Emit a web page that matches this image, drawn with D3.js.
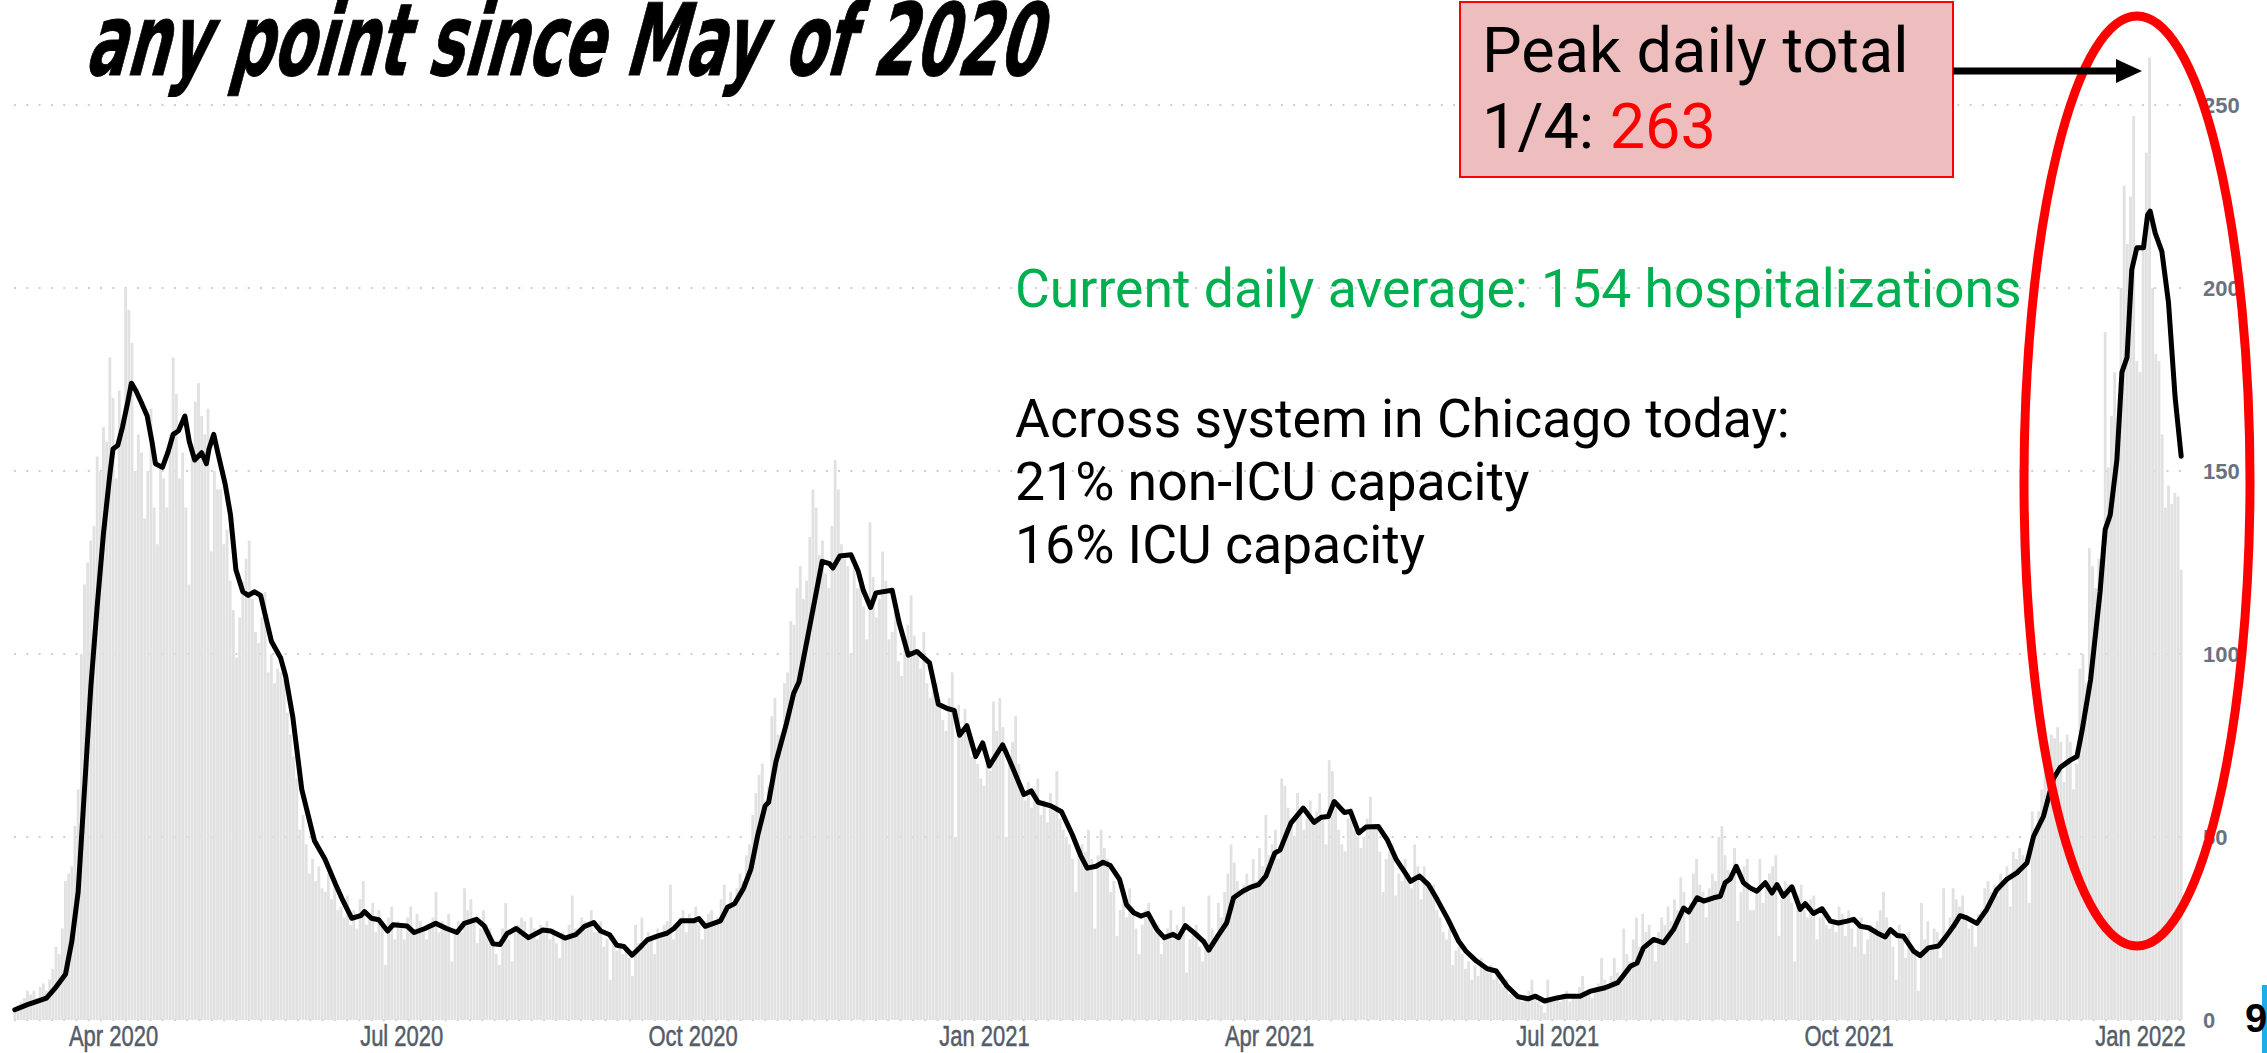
<!DOCTYPE html>
<html>
<head>
<meta charset="utf-8">
<script src="https://cdn.jsdelivr.net/npm/d3@7"></script>
<style>
  html, body { margin: 0; padding: 0; background: #fff; overflow: hidden; }
  svg { display: block; }
</style>
</head>
<body>
<svg id="chart" width="2267" height="1053"></svg>
<script>
// daily covid hospitalizations, one array per month (day 1 .. end)
var mar20 = [3,4,5,6,8,7,8,6,9,10,8,11,14,20,18,25,38,40,42,53,63,100,119,125,131,135,154,150,162,158,181];
var apr20 = [170,148,172,160,200,194,185,150,160,155,137,150,167,140,130,152,148,140,160,181,171,148,155,140,119,155,169,174,165,160];
var may20 = [167,128,150,145,145,130,134,120,112,99,110,120,126,131,115,106,103,110,117,95,100,92,96,95,93,84,78,72,66,52,56];
var jun20 = [48,40,44,38,42,36,35,40,33,37,30,31,28,34,26,30,25,33,38,26,29,32,24,30,27,15,28,31,22,27];
var jul20 = [26,22,28,31,24,29,27,25,22,26,28,35,24,27,26,29,16,25,27,24,36,30,33,28,21,25,30,26,25,22,18];
var aug20 = [15,25,32,22,16,24,26,28,27,23,28,25,22,26,24,27,22,25,21,17,24,22,26,34,25,23,28,27,26,30,24];
var sep20 = [24,27,20,22,11,23,19,21,18,20,17,12,26,21,28,20,24,22,18,25,23,26,27,37,22,26,28,30,24,29];
var oct20 = [28,31,26,22,27,29,30,26,28,33,37,30,35,32,36,40,38,45,48,56,62,67,70,60,64,83,88,78,75,92,95];
var nov20 = [109,108,118,124,115,120,132,145,140,127,131,122,118,135,153,145,130,126,124,100,125,118,120,113,104,136,121,110,115,128];
var dec20 = [120,104,106,112,98,94,102,108,116,105,100,96,106,92,88,90,92,86,82,79,88,95,50,86,80,85,78,72,74,70,66];
var jan21 = [64,72,68,87,79,88,80,50,72,76,83,70,62,60,65,58,63,66,56,60,54,62,57,68,55,52,50,48,44,35,45];
var feb21 = [48,46,52,44,25,45,52,47,44,35,38,23,30,34,28,36,31,25,18,26,30,32,28,24,26,18,22,25];
var mar21 = [30,22,26,24,31,13,22,24,26,20,16,22,34,25,22,32,28,35,40,48,43,38,34,37,40,35,44,38,47,42,56];
var apr21 = [45,48,52,44,66,64,58,55,50,62,58,52,55,60,54,57,62,56,48,71,68,58,52,48,46,55,58,52,50,47];
var may21 = [50,55,61,53,53,46,35,44,46,48,34,40,38,44,40,36,48,42,33,42,38,35,37,30,28,24,22,25,15,19,20];
var jun21 = [18,14,16,11,15,12,17,14,13,15,11,12,10,9,11,7,8,6,7,5,6,8,11,6,5,4,2,11,5,6];
var jul21 = [7,5,6,8,5,7,6,9,12,7,8,6,9,10,17,11,9,12,17,13,10,25,18,16,22,28,20,29,24,26,22];
var aug21 = [16,24,28,26,31,27,33,30,39,35,21,32,40,44,37,35,28,36,40,38,50,53,45,41,38,47,27,35,42,44,30];
var sep21 = [30,36,44,32,38,40,42,45,23,33,38,37,32,16,34,37,30,28,33,34,22,28,30,26,25,27,24,31,29,23];
var oct21 = [30,25,20,26,28,18,22,26,25,27,30,35,28,24,20,11,26,23,17,24,19,18,8,32,22,27,20,25,24,17,36];
var nov21 = [22,28,36,33,31,34,28,25,26,20,29,30,36,38,35,37,34,40,38,42,31,46,44,47,45,44,32,57,52,57];
var dec21 = [63,70,74,78,77,80,76,65,78,76,63,70,96,100,92,129,124,118,126,120,188,151,165,177,155,200,228,212,225,247,180];
var jan22 = [177,214,237,263,200,182,180,160,140,146,141,144,143,123];

var months = [
  ["2020-03", mar20], ["2020-04", apr20], ["2020-05", may20], ["2020-06", jun20],
  ["2020-07", jul20], ["2020-08", aug20], ["2020-09", sep20], ["2020-10", oct20],
  ["2020-11", nov20], ["2020-12", dec20], ["2021-01", jan21], ["2021-02", feb21],
  ["2021-03", mar21], ["2021-04", apr21], ["2021-05", may21], ["2021-06", jun21],
  ["2021-07", jul21], ["2021-08", aug21], ["2021-09", sep21], ["2021-10", oct21],
  ["2021-11", nov21], ["2021-12", dec21], ["2022-01", jan22]
];

// 7-day average: [days since 2020-03-01, value]
var avgStart = "2020-03-01";
var avgPoints = [
  [0,2.8],[4,4.2],[10,6],[13,9],[16,12.5],[18,21.5],[20,35],[22,63],[24,91],[26,113],[28,133],[30,149],
  [31,156],[32.5,157],[34,162],[35.7,169],[36.8,174],[38.2,172],[39.8,169],[41.8,165],[43.3,158],[44.4,152],
  [46.6,151],[48.3,155],[50,160],[51.7,161],[53.7,165],[55.1,158],[56.8,153],[59,155],[60.5,152],[61.3,156],
  [62.8,160],[64.1,155],[66.4,146.5],[68.1,138],[69.8,123],[72,117],[73.7,116],[75.6,117],[77.6,116],[81,103.5],
  [83.9,99],[85.5,94],[87.8,82.6],[90.6,63],[94.6,49],[97.9,44],[101.3,37],[103.6,32.6],[106.4,27.8],[109.2,28.5],
  [110.4,29.6],[112.6,27.8],[114.9,27.4],[117.7,24.3],[119.4,26],[123.8,25.7],[126.1,23.9],[129.5,25],[132.9,26.4],
  [136.3,25],[139.6,23.9],[141.9,26.4],[145.8,27.5],[148.2,25.7],[151,20.8],[153.2,20.6],[155.4,23.6],[158.3,25],
  [162.2,22.5],[166.7,24.6],[169.2,24.3],[173.7,22.4],[177.1,23.3],[179.9,25.6],[182.8,26.6],[185,24.3],[187.8,23.3],
  [190.1,20.4],[192.3,20.1],[194.9,17.7],[197.4,19.8],[199.7,21.9],[203.1,23],[205.9,23.7],[208.1,25],[210.4,27.1],
  [214.3,27.1],[216,27.7],[218,25.6],[222.8,27.1],[225,30.8],[227.3,31.8],[230.1,36],[232.4,41.2],[234.6,50.6],
  [236.9,58.5],[238,59.5],[240.3,70.5],[243.6,80.9],[245.9,89.2],[247.6,92.4],[250.4,104.9],[252.7,115.3],
  [254.9,125.3],[257.2,124.7],[258.3,123.5],[260.5,126.8],[264,127.1],[266.3,122.6],[267.9,117.4],[270.2,112.7],
  [271.9,116.7],[277,117.4],[279.2,108.6],[282.1,99.7],[284.8,100.7],[288.8,97.6],[291.6,86.3],[294.4,85.1],
  [296.6,84.6],[298.3,77.8],[300.6,80.4],[303.4,72],[305.6,75.7],[307.7,69.4],[311.9,75.2],[314.6,69.9],
  [318.6,61.6],[320.9,62.6],[323.1,59.5],[327.1,58.5],[330.5,56.9],[333.9,50.6],[336.5,45],[338.6,41.5],
  [341.4,42],[343.6,43.1],[345.9,42.2],[348.8,38.4],[351,31.5],[353.3,29.3],[355.5,28.4],[357.8,29.1],[360.6,24.7],
  [362.9,22.5],[365.7,23.4],[367.4,22.5],[369.6,25.8],[372.4,23.8],[375.3,21.5],[377,19.1],[379.8,22.9],[382.6,26.5],
  [384.8,33.4],[387.7,35.2],[390.5,36.4],[392.7,37],[395,39.3],[397.8,45.6],[399.5,46.5],[402.9,53.8],[406.8,57.9],
  [410.2,54],[412.5,55.4],[414.7,55.6],[416.6,59.7],[419.8,56.7],[421.7,57],[424.3,51.1],[426.6,52.7],[430.5,52.9],
  [433.3,49.3],[436.2,43.8],[439,40.2],[440.7,37.9],[443.5,39.3],[446.3,37],[449.1,32.9],[452.5,27.5],[455.9,21.5],
  [458.2,18.8],[461.5,16.1],[464.9,14],[467.7,13.4],[471.1,9.3],[474.5,6.4],[477.8,5.8],[480.1,6.5],[483,5.2],
  [486.3,5.9],[489.7,6.5],[494.2,6.5],[497.6,7.9],[502.1,8.8],[506.1,10.2],[510.1,14.7],[512.2,15.6],[514.2,19.7],
  [517.4,22],[520.6,21.1],[523.7,24.7],[526.9,30.6],[528.5,29.5],[531.2,33.4],[533.2,32.5],[536.4,33.4],[538.5,33.8],
  [540,37.5],[541.6,38.5],[543.5,42],[545.8,37.5],[547.9,36.1],[550,35.2],[552.7,37.5],[554.8,34.7],[556.4,37],
  [558.4,33.8],[561.1,36.4],[563.7,30.2],[565.3,31.8],[567.9,29.1],[570.6,30.4],[573.2,27],[575.8,26.5],[578.5,27],
  [580.6,27.5],[582.7,25.6],[585.3,25.2],[588,23.8],[590.6,22.7],[592.2,24.7],[594.3,23.1],[596.3,22.9],[599.5,18.8],
  [601.6,17.6],[604.2,19.7],[607.4,20.2],[609.5,22.5],[612.1,25.6],[614.2,28.5],[616.3,27.9],[619.5,26.4],[622.6,30.2],
  [625.8,35.6],[628.9,38.4],[632.1,40.2],[635.3,42.9],[637.4,50.2],[640.5,55.6],[643.7,66],[645.8,69],[649,71],
  [651.1,72],[652.7,79],[655.4,93],[658.4,117],[660,134],[661.6,138],[663.7,153],[665.3,177],[666.9,181],[668.4,205],
  [670,211],[672.1,211],[673.4,220],[674.2,221],[675.8,215],[677.9,210],[680,196],[682.1,170],[684,154]
];

var yTicks = [0, 50, 100, 150, 200, 250];
var xTicks = ["2020-04-01","2020-07-01","2020-10-01","2021-01-01","2021-04-01","2021-07-01","2021-10-01","2022-01-01"];
var peakLabel = "1/4", peakValue = 263, currentAvg = 154;
var capacityLines = ["Across system in Chicago today:", "21% non-ICU capacity", "16% ICU capacity"];

var parse = d3.timeParse("%Y-%m-%d");
var daily = [];
months.forEach(function(m){
  var first = parse(m[0] + "-01");
  m[1].forEach(function(v, i){
    daily.push({date: d3.timeDay.offset(first, i), value: v});
  });
});
var t0 = parse(avgStart).getTime();
var avg = avgPoints.map(function(p){ return {date: new Date(t0 + p[0]*864e5), value: p[1]}; });

var svg = d3.select("#chart");

var x = d3.scaleTime().domain([parse("2020-04-01"), parse("2022-01-01")]).range([113, 2140]);
var y = d3.scaleLinear().domain([0, 250]).range([1020, 105]);

// dotted grid
svg.append("g").selectAll("line").data(yTicks).enter().append("line")
  .attr("x1", 14).attr("x2", 2184)
  .attr("y1", function(d){ return y(d); }).attr("y2", function(d){ return y(d); })
  .attr("stroke", "#cfcfcf").attr("stroke-width", 2).attr("stroke-dasharray", "2,10.3");

// daily bars
var bw = 2.8;
svg.append("g").selectAll("rect").data(daily).enter().append("rect")
  .attr("x", function(d){ return x(d.date) - bw/2; })
  .attr("width", bw)
  .attr("y", function(d){ return y(d.value); })
  .attr("height", function(d){ return y(0) - y(d.value); })
  .attr("fill", "#e1e1e1");

// 7 day average
var line = d3.line().x(function(d){ return x(d.date); }).y(function(d){ return y(d.value); });
svg.append("path").datum(avg).attr("d", line)
  .attr("fill", "none").attr("stroke", "#000").attr("stroke-width", 5)
  .attr("stroke-linejoin", "round").attr("stroke-linecap", "round");

// axes
var xAxis = svg.append("g").attr("transform", "translate(0,1046)")
  .call(d3.axisBottom(x).tickValues(xTicks.map(parse)).tickFormat(d3.timeFormat("%b %Y")).tickSize(0));
xAxis.select(".domain").remove();
xAxis.selectAll("text").attr("y", 0).attr("dy", 0).attr("transform", "scale(1,1.3)")
  .style("font-family", "'Liberation Sans', Arial, sans-serif").style("font-size", "22px")
  .attr("fill", "#555d68").attr("stroke", "#555d68").attr("stroke-width", 0.4);

var yAxis = svg.append("g").attr("transform", "translate(2203,0)")
  .call(d3.axisRight(y).tickValues(yTicks).tickSize(0).tickPadding(0));
yAxis.select(".domain").remove();
yAxis.selectAll("text")
  .style("font-family", "'Liberation Sans', Arial, sans-serif").style("font-size", "22px").style("font-weight", "bold")
  .attr("fill", "#6a7280");

// title
svg.append("g").attr("transform", "translate(84,75) skewX(-15)")
  .append("text").attr("textLength", 955).attr("lengthAdjust", "spacingAndGlyphs")
  .style("font-family", "'DejaVu Sans', sans-serif").style("font-weight", "bold").style("font-size", "100px")
  .attr("fill", "#000").attr("stroke", "#000").attr("stroke-width", 1)
  .text("any point since May of 2020");

var roboto = "Roboto, 'Noto Sans', sans-serif";

svg.append("text").attr("x", 1015).attr("y", 307)
  .style("font-family", roboto).style("font-size", "53.5px").attr("fill", "#00b050")
  .text("Current daily average: " + currentAvg + " hospitalizations");

svg.append("g").selectAll("text").data(capacityLines).enter().append("text")
  .attr("x", 1015).attr("y", function(d, i){ return 437 + i*63; })
  .style("font-family", roboto).style("font-size", "53.5px").attr("fill", "#000")
  .text(function(d){ return d; });

// peak callout
svg.append("rect").attr("x", 1460).attr("y", 2).attr("width", 493).attr("height", 175)
  .attr("fill", "#eebdbd").attr("stroke", "#ff0000").attr("stroke-width", 2);
svg.append("text").attr("x", 1482).attr("y", 72)
  .style("font-family", roboto).style("font-size", "63px").attr("fill", "#000")
  .text("Peak daily total");
var pk = svg.append("text").attr("x", 1482).attr("y", 148)
  .style("font-family", roboto).style("font-size", "63px").attr("fill", "#000");
pk.append("tspan").text(peakLabel + ": ");
pk.append("tspan").attr("fill", "#ff0000").text(peakValue);

// red ellipse around the latest surge
svg.append("ellipse").attr("cx", 2137).attr("cy", 481).attr("rx", 113).attr("ry", 465)
  .attr("fill", "none").attr("stroke", "#ff0000").attr("stroke-width", 9);

// arrow to the peak bar
var peakY = 71;
svg.append("line").attr("x1", 1953).attr("x2", 2120).attr("y1", peakY).attr("y2", peakY)
  .attr("stroke", "#000").attr("stroke-width", 7);
svg.append("path").attr("d", "M2116," + (peakY - 12) + "L2142," + peakY + "L2116," + (peakY + 12) + "Z")
  .attr("fill", "#000");

// slide number remnant at the right edge
svg.append("rect").attr("x", 2262).attr("y", 985).attr("width", 5).attr("height", 68).attr("fill", "#1eaee6");
svg.append("text").attr("x", 2245).attr("y", 1032)
  .style("font-family", "'Liberation Sans', Arial, sans-serif").style("font-size", "40px").style("font-weight", "bold")
  .attr("fill", "#000").text("9");
</script>
</body>
</html>
